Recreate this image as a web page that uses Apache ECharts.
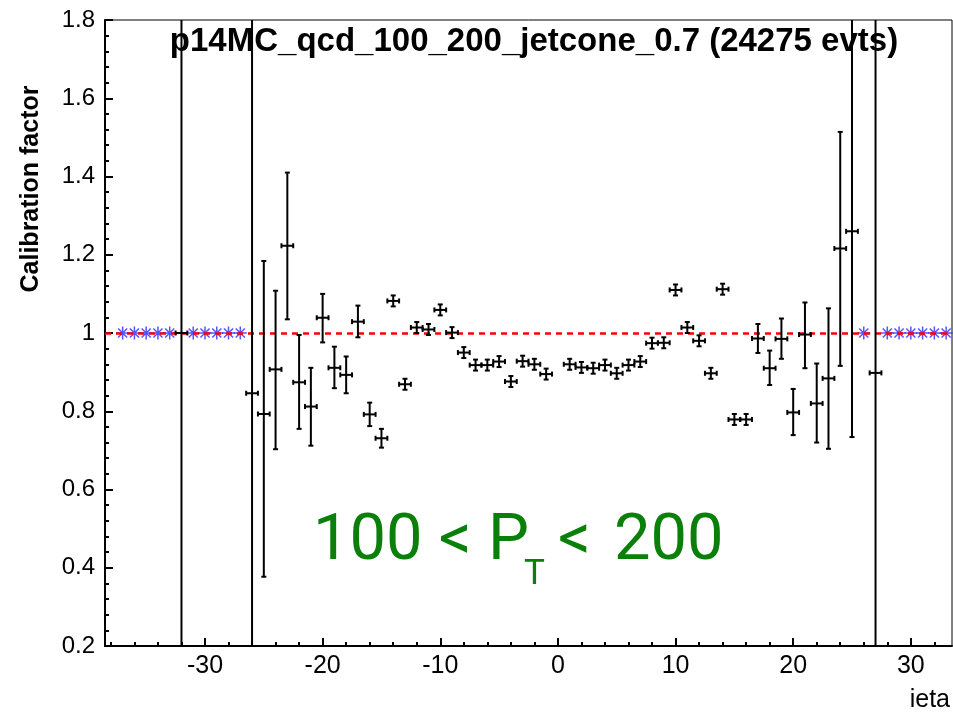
<!DOCTYPE html>
<html>
<head>
<meta charset="utf-8">
<script src="https://cdn.jsdelivr.net/npm/echarts@6/dist/echarts.min.js"></script>
<style>html,body{margin:0;padding:0;background:#fff}#c{width:953px;height:715px}</style>
</head>
<body>
<div id="c"></div>
<script>
// ---- data ----
const X_MIN = -38.5, X_MAX = 33.5;
const Y_MIN = 0.2, Y_MAX = 1.8;
const xMajorTicks = [-30, -20, -10, 0, 10, 20, 30];
const xMinorTicks = [-38, -36, -34, -32, -28, -26, -24, -22, -18, -16, -14, -12, -8, -6, -4, -2,
  2, 4, 6, 8, 12, 14, 16, 18, 22, 24, 26, 28, 32];
// measured points (ieta, calibration factor, lower edge, upper edge of error bar)
const ieta = [-32, -26, -25, -24, -23, -22, -21, -20, -19, -18, -17, -16, -15, -14, -13, -12, -11, -10, -9, -8, -7, -6, -5, -4, -3, -2, -1,
  1, 2, 3, 4, 5, 6, 7, 8, 9, 10, 11, 12, 13, 14, 15, 16, 17, 18, 19, 20, 21, 22, 23, 24, 25, 27];
const calib = [1.0, 0.846, 0.793, 0.907, 1.223, 0.874, 0.812, 1.039, 0.911, 0.893, 1.029, 0.792, 0.731, 1.082, 0.869, 1.014, 1.009, 1.059, 1.001, 0.950, 0.918, 0.918, 0.927, 0.876, 0.928, 0.920, 0.895,
  0.920, 0.912, 0.910, 0.918, 0.897, 0.918, 0.927, 0.974, 0.975, 1.110, 1.014, 0.980, 0.897, 1.112, 0.779, 0.779, 0.986, 0.910, 0.985, 0.797, 0.996, 0.820, 0.884, 1.216, 1.260, 0.898];
const errLo = [0.0, 0.0, 0.377, 0.703, 1.035, 0.755, 0.712, 0.976, 0.859, 0.846, 0.989, 0.762, 0.707, 1.068, 0.855, 1.000, 0.995, 1.045, 0.987, 0.936, 0.904, 0.904, 0.913, 0.862, 0.914, 0.906, 0.881,
  0.906, 0.898, 0.896, 0.904, 0.883, 0.904, 0.913, 0.960, 0.961, 1.096, 1.000, 0.966, 0.883, 1.098, 0.765, 0.765, 0.949, 0.867, 0.934, 0.739, 0.910, 0.720, 0.704, 0.916, 0.734, 0.0];
const errHi = [2.0, 2.0, 1.184, 1.108, 1.410, 0.995, 0.911, 1.100, 0.965, 0.940, 1.070, 0.822, 0.755, 1.096, 0.883, 1.028, 1.023, 1.073, 1.015, 0.964, 0.932, 0.932, 0.941, 0.890, 0.942, 0.934, 0.909,
  0.934, 0.926, 0.924, 0.932, 0.911, 0.932, 0.941, 0.988, 0.989, 1.124, 1.028, 0.994, 0.911, 1.126, 0.793, 0.793, 1.023, 0.955, 1.037, 0.857, 1.078, 0.922, 1.063, 1.514, 2.0, 2.0];
const X_HALF_WIDTH = 0.5;
// empty bins shown as stars at 1
const emptyIeta = [-37, -36, -35, -34, -33, -31, -30, -29, -28, -27, 26, 28, 29, 30, 31, 32, 33];
const emptyValue = [1, 1, 1, 1, 1, 1, 1, 1, 1, 1, 1, 1, 1, 1, 1, 1, 1];
const REF_LEVEL = 1;

const titleText = 'p14MC_qcd_100_200_jetcone_0.7 (24275 evts)';

// ---- chart ----
const chart = echarts.init(document.getElementById('c'), null, {renderer: 'canvas'});
const barData = ieta.map((x, i) => [x, calib[i], errLo[i], errHi[i]]);
const starData = emptyIeta.map((x, i) => [x, emptyValue[i]]);
const LABEL_FONT = 'Liberation Sans, Arial, Helvetica, sans-serif';
const GREEN = '#0a800a';
const BIG_FONT = 'Roboto, sans-serif';

function renderBar(params, api) {
  const x = api.value(0), v = api.value(1), lo = api.value(2), hi = api.value(3);
  const loC = Math.max(lo, Y_MIN), hiC = Math.min(hi, Y_MAX);
  const pLo = api.coord([x, loC]);
  const pHi = api.coord([x, hiC]);
  const pL = api.coord([x - X_HALF_WIDTH, v]);
  const pR = api.coord([x + X_HALF_WIDTH, v]);
  const st = {stroke: '#000', lineWidth: 2};
  const cap = 2.5;
  const children = [
    {type: 'line', shape: {x1: pLo[0], y1: pLo[1], x2: pHi[0], y2: pHi[1]}, style: st},
    {type: 'line', shape: {x1: pL[0], y1: pL[1], x2: pR[0], y2: pR[1]}, style: st},
    {type: 'line', shape: {x1: pL[0], y1: pL[1] - cap, x2: pL[0], y2: pL[1] + cap}, style: st},
    {type: 'line', shape: {x1: pR[0], y1: pR[1] - cap, x2: pR[0], y2: pR[1] + cap}, style: st}
  ];
  if (lo >= Y_MIN) children.push({type: 'line', shape: {x1: pLo[0] - cap, y1: pLo[1], x2: pLo[0] + cap, y2: pLo[1]}, style: st});
  if (hi <= Y_MAX) children.push({type: 'line', shape: {x1: pHi[0] - cap, y1: pHi[1], x2: pHi[0] + cap, y2: pHi[1]}, style: st});
  return {type: 'group', children};
}

const option = {
  backgroundColor: '#fff',
  animation: false,
  title: {
    text: titleText, left: 529, top: 20, textAlign: 'center', z: 0,
    textStyle: {fontFamily: LABEL_FONT, fontWeight: 'bold', fontSize: 33, color: '#000'}
  },
  grid: {left: 105, right: 1, top: 20, bottom: 69, show: true, borderColor: '#000', borderWidth: 1, backgroundColor: 'transparent'},
  xAxis: [{
    type: 'value', min: X_MIN, max: X_MAX, position: 'bottom',
    axisLine: {show: true, onZero: false, lineStyle: {color: '#000', width: 2}},
    axisTick: {show: true, inside: true, length: 8, customValues: xMajorTicks, lineStyle: {color: '#000', width: 2}},
    axisLabel: {show: true, customValues: xMajorTicks, margin: 8, color: '#000', fontSize: 25, fontFamily: LABEL_FONT},
    splitLine: {show: false}
  }, {
    type: 'value', min: X_MIN, max: X_MAX, position: 'bottom', offset: 0,
    axisLine: {show: false, onZero: false},
    axisTick: {show: true, inside: true, length: 4, customValues: xMinorTicks, lineStyle: {color: '#000', width: 2}},
    axisLabel: {show: false},
    splitLine: {show: false}
  }],
  yAxis: {
    type: 'value', min: Y_MIN, max: Y_MAX, interval: 0.2,
    axisLine: {show: true, onZero: false, lineStyle: {color: '#000', width: 2}},
    axisTick: {show: true, inside: true, length: 8, lineStyle: {color: '#000', width: 2}},
    minorTick: {show: true, splitNumber: 5, length: 4, lineStyle: {color: '#000', width: 2}},
    axisLabel: {color: '#000', fontSize: 24, fontFamily: LABEL_FONT, margin: 10, formatter: v => String(+v.toFixed(2))},
    splitLine: {show: false}
  },
  series: [{
    type: 'scatter', name: 'empty', data: starData, z: 3,
    symbol: 'path://M0,5L10,5M5,0L5,10M1.5,1.5L8.5,8.5M1.5,8.5L8.5,1.5',
    symbolSize: 13,
    itemStyle: {color: 'rgba(0,0,0,0)', borderColor: '#2a2aff', borderWidth: 1.5},
    markLine: {
      silent: true, symbol: 'none', label: {show: false}, z: 4,
      lineStyle: {color: '#ff0000', type: [6, 5], width: 2.5},
      data: [{yAxis: REF_LEVEL}]
    }
  }, {
    type: 'custom', name: 'calib', data: barData, z: 5, clip: true,
    renderItem: renderBar,
    encode: {x: 0, y: 1}
  }],
  graphic: [{
    type: 'text', x: 31, y: 189, rotation: Math.PI / 2,
    style: {text: 'Calibration factor', fontFamily: LABEL_FONT, fontWeight: 'bold', fontSize: 25, fill: '#000',
      align: 'center', verticalAlign: 'middle'}
  }, {
    type: 'text', right: 3, top: 688,
    style: {text: 'ieta', fontFamily: LABEL_FONT, fontSize: 25, fill: '#000'}
  }, {
    type: 'group', left: 313, top: 510,
    children: [
      {type: 'text', x: 0, y: 0, style: {text: '100 < P', fontFamily: BIG_FONT, fontSize: 65, fill: GREEN}},
      {type: 'text', x: 211, y: 48, style: {text: 'T', fontFamily: BIG_FONT, fontSize: 35, fill: GREEN}},
      {type: 'text', x: 245, y: 0, style: {text: '<', fontFamily: BIG_FONT, fontSize: 65, fill: GREEN}},
      {type: 'text', x: 301, y: 0, style: {text: '200', fontFamily: BIG_FONT, fontSize: 65, fill: GREEN}}
    ]
  }]
};
chart.setOption(option);
</script>
</body>
</html>
